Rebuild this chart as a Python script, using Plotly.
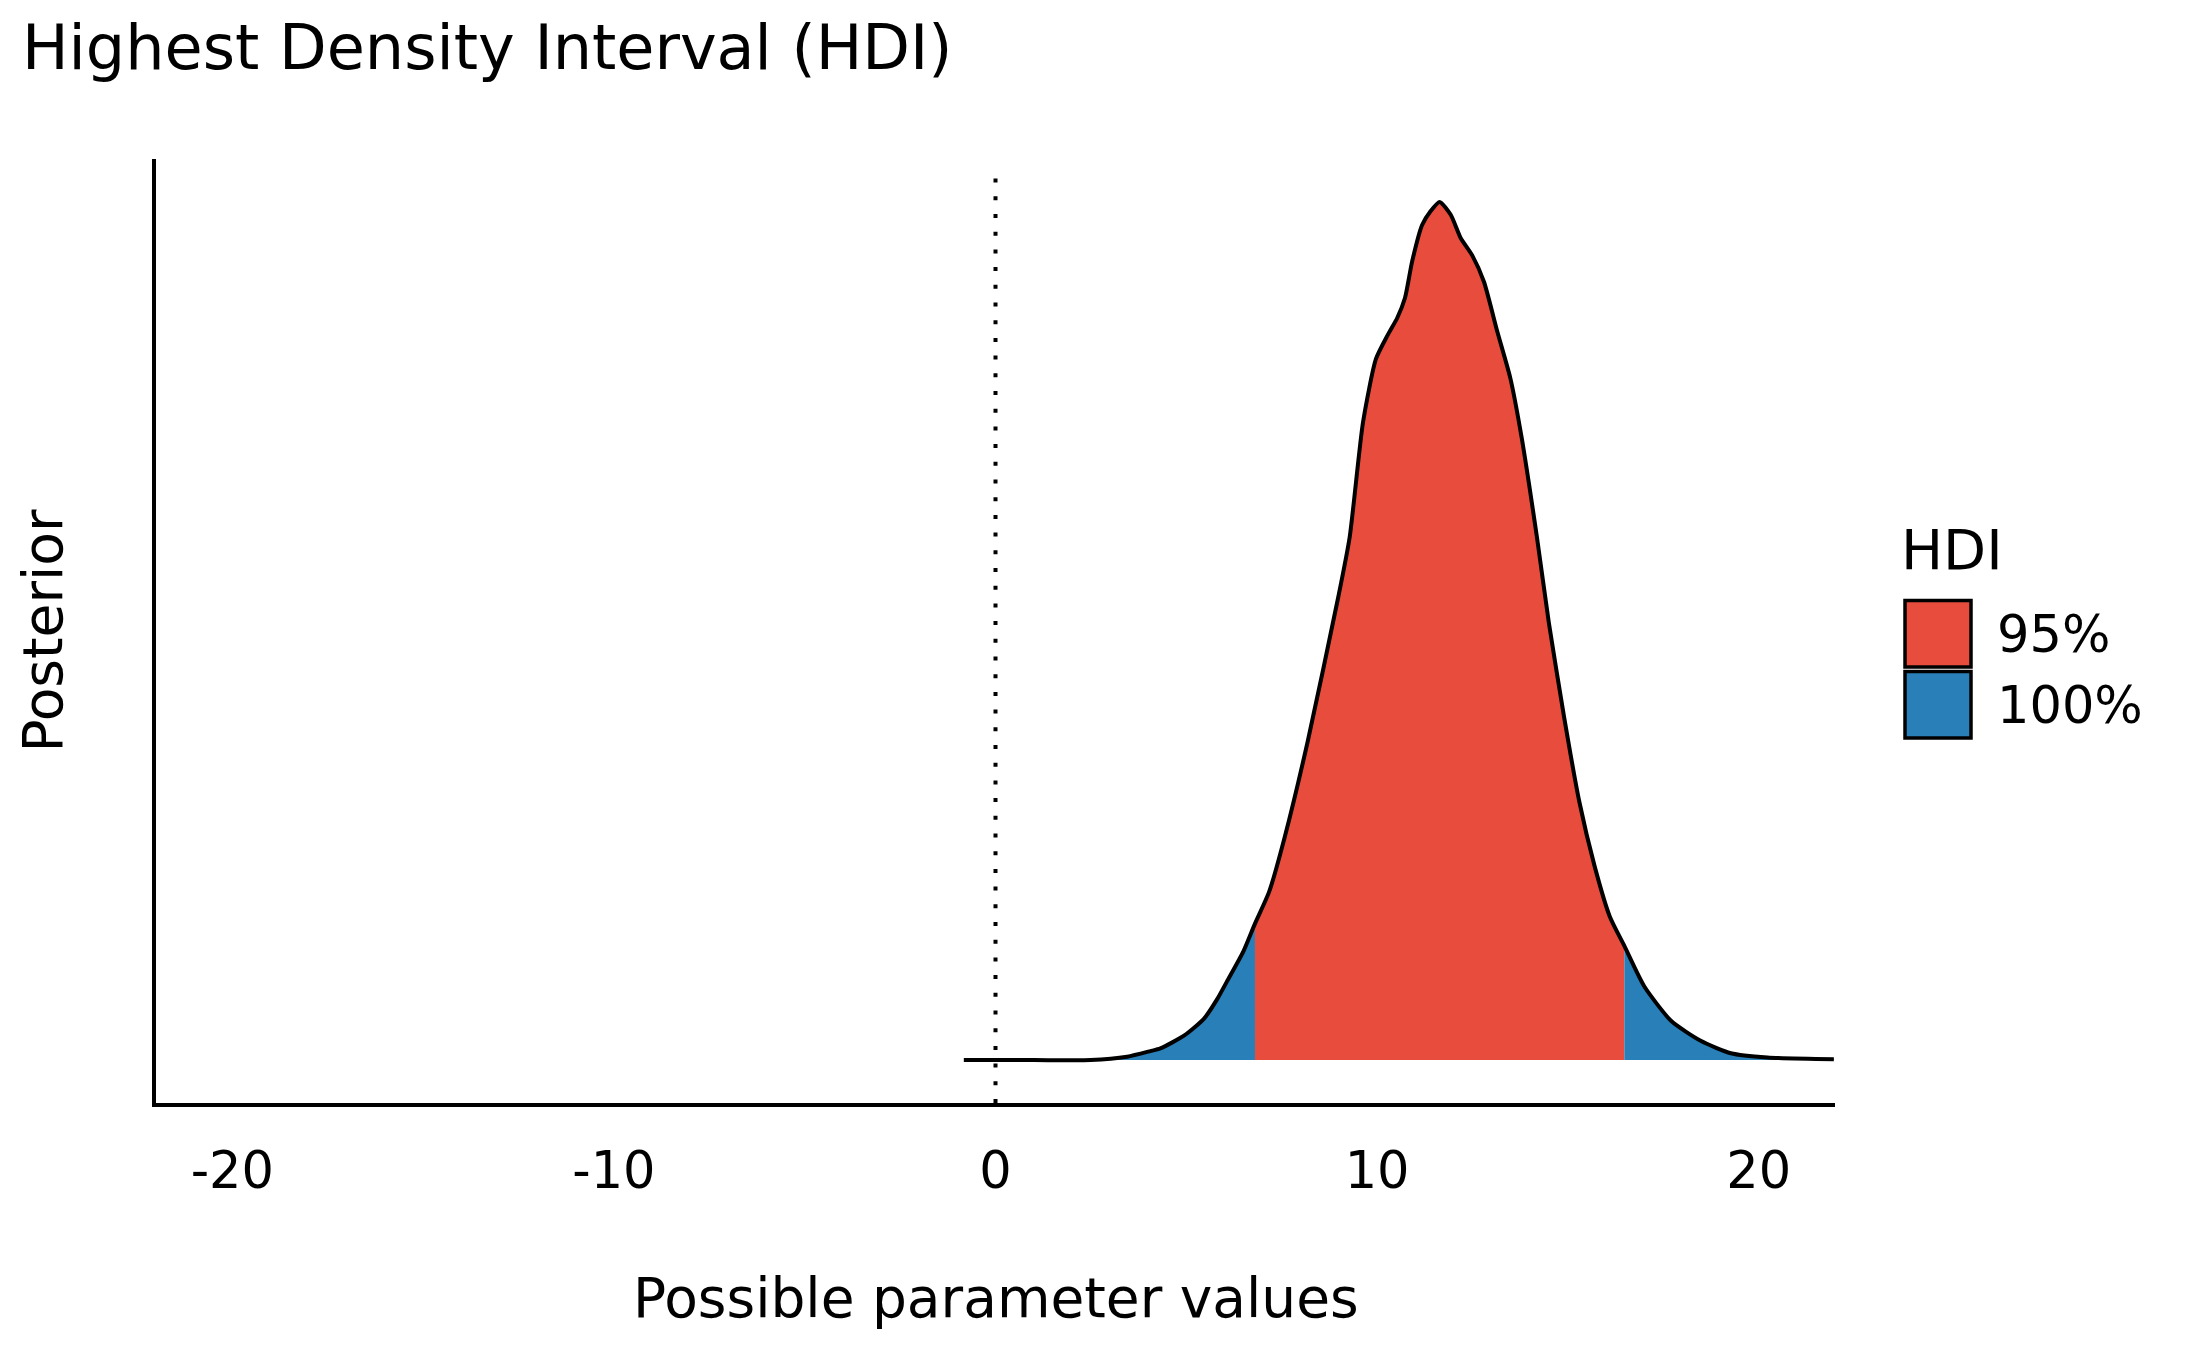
import plotly.graph_objects as go

# Posterior density (peak scaled to 1)
param_values = [-0.83, 1.0, 2.49, 3.45, 4.06, 4.32, 4.96, 5.46, 5.81, 6.07, 6.50, 6.80,
                7.17, 7.58, 8.18, 8.98, 9.28, 9.63, 9.97, 10.28, 10.53, 10.73, 10.92,
                11.18, 11.40, 11.64, 11.93, 12.19, 12.49, 12.80, 13.15, 13.49, 13.79,
                14.19, 14.50, 14.90, 15.30, 15.70, 16.10, 16.48, 17.00, 17.71, 18.48,
                19.27, 20.23, 21.97]
density = [0.0, 0.0, 0.0, 0.004, 0.0105, 0.0136, 0.029, 0.048, 0.071, 0.092, 0.127, 0.159,
           0.196, 0.260, 0.371, 0.539, 0.609, 0.743, 0.817, 0.845, 0.865, 0.888, 0.931,
           0.973, 0.989, 1.0, 0.985, 0.958, 0.938, 0.907, 0.849, 0.795, 0.725,
           0.609, 0.510, 0.400, 0.301, 0.226, 0.167, 0.133, 0.086, 0.0455, 0.0225,
           0.008, 0.003, 0.001]

# 95% HDI bounds
hdi_low = 6.80
hdi_high = 16.48
hdi_labels = ["95%", "100%"]
hdi_colors = ["#E74C3C", "#2980B9"]

null_value = 0
tick_values = [-20, -10, 0, 10, 20]
tick_labels = ["-20", "-10", "0", "10", "20"]

# page is 2187x1351, the browser puts the figure 8px in from the corner
OFF = 8
W, H = 2187 - 2 * OFF, 1351 - 2 * OFF
M = dict(l=156 - OFF, r=2187 - 1835 - OFF, t=159 - OFF, b=1351 - 1103 - OFF)
PW = W - M["l"] - M["r"]
PH = H - M["t"] - M["b"]
FONT = "DejaVu Sans"


def px_x(px):
    # page pixel -> paper coordinate
    return (px - OFF - M["l"]) / PW


def px_y(py):
    return (H - M["b"] - (py - OFF)) / PH


i_lo = param_values.index(hdi_low)
i_hi = param_values.index(hdi_high)
segments = [
    (param_values[: i_lo + 1], density[: i_lo + 1], hdi_colors[1]),
    (param_values[i_lo: i_hi + 1], density[i_lo: i_hi + 1], hdi_colors[0]),
    (param_values[i_hi:], density[i_hi:], hdi_colors[1]),
]

fig = go.Figure()

# filled HDI areas
for xs, ys, color in segments:
    fig.add_trace(
        go.Scatter(
            x=xs,
            y=ys,
            mode="lines",
            line=dict(width=0, shape="spline", smoothing=0.6),
            fill="tozeroy",
            fillcolor=color,
            showlegend=False,
            hoverinfo="skip",
        )
    )

# density outline
fig.add_trace(
    go.Scatter(
        x=param_values,
        y=density,
        mode="lines",
        line=dict(color="black", width=4, shape="spline", smoothing=0.6),
        showlegend=False,
    )
)

# dotted line at the null value
fig.add_shape(
    type="line",
    xref="x", yref="paper",
    x0=null_value, x1=null_value, y0=0, y1=0.985,
    line=dict(color="black", width=4, dash="4px,13.7px"),
    layer="above",
)

# hand-made legend (ggplot style keys)
fig.add_annotation(
    text="HDI", xref="paper", yref="paper",
    x=px_x(1899), y=px_y(549), xanchor="left", yanchor="middle",
    showarrow=False, font=dict(family=FONT, size=56, color="black"),
)
key_tops = [600.5, 671.5]
for label, color, top in zip(hdi_labels, hdi_colors, key_tops):
    fig.add_shape(
        type="rect", xref="paper", yref="paper",
        x0=px_x(1905), x1=px_x(1971), y0=px_y(top), y1=px_y(top + 66.5),
        fillcolor=color, line=dict(color="black", width=3.5),
    )
    fig.add_annotation(
        text=label, xref="paper", yref="paper",
        x=px_x(1995), y=px_y(top + 33.5), xanchor="left", yanchor="middle",
        showarrow=False, font=dict(family=FONT, size=51, color="black"),
    )

# axis titles
fig.add_annotation(
    text="Possible parameter values", xref="paper", yref="paper",
    x=0.5, y=px_y(1297.5), xanchor="center", yanchor="middle",
    showarrow=False, font=dict(family=FONT, size=55, color="black"),
)
fig.add_annotation(
    text="Posterior", xref="paper", yref="paper",
    x=px_x(42.5), y=0.5, xanchor="center", yanchor="middle", textangle=-90,
    showarrow=False, font=dict(family=FONT, size=55, color="black"),
)

fig.update_layout(
    width=W,
    height=H,
    margin=M,
    paper_bgcolor="white",
    plot_bgcolor="white",
    font=dict(family=FONT, color="black"),
    title=dict(
        text="Highest Density Interval (HDI)",
        x=(22 - OFF) / W, xref="container", xanchor="left",
        y=1 - (47.5 - OFF) / H, yref="container", yanchor="middle",
        font=dict(family=FONT, size=62, color="black"),
    ),
    showlegend=False,
    xaxis=dict(
        range=[-22, 22],
        tickvals=tick_values,
        ticktext=tick_labels,
        ticks="",
        ticklabelstandoff=20,
        tickfont=dict(family=FONT, size=51, color="black"),
        showgrid=False,
        zeroline=False,
        showline=True,
        linecolor="black",
        linewidth=3.5,
    ),
    yaxis=dict(
        range=[-0.05, 1.05],
        showticklabels=False,
        ticks="",
        showgrid=False,
        zeroline=False,
        showline=True,
        linecolor="black",
        linewidth=3.5,
    ),
)

fig.write_html("out.html")
